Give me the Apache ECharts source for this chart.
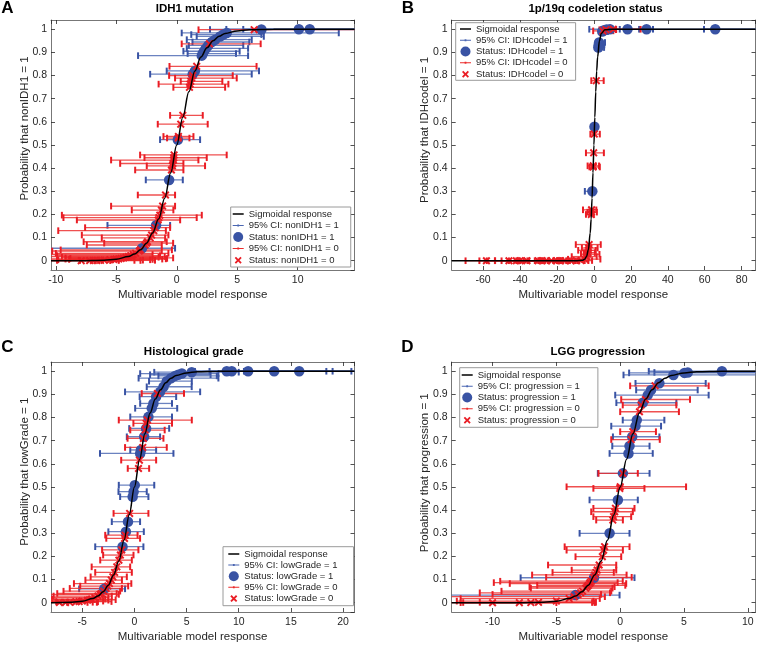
<!DOCTYPE html>
<html><head><meta charset="utf-8">
<script src="https://cdn.jsdelivr.net/npm/echarts@6/dist/echarts.min.js"></script>
<style>html,body{margin:0;padding:0;background:#fff}#c{width:757px;height:645px}</style>
</head><body><div id="c"></div>
<script>
// ---------------- DATA ----------------
// each point: [model response, probability, CI low, CI high]
const idhCurveX = [-10.4,-8,-6,-5,-4,-3.5,-3,-2.5,-2,-1.5,-1,-0.5,0,0.5,1,1.5,2,2.5,3,3.5,4,5,6,8,10,14.7];
const idhCurveY = [0.00003,0.0003,0.0025,0.0067,0.018,0.029,0.047,0.076,0.12,0.18,0.27,0.38,0.5,0.62,0.73,0.82,0.88,0.92,0.95,0.97,0.982,0.993,0.9975,0.9997,1,1];
const idhPos = [
 [11.0,1.0,5.5,22],[10.1,1.0,4.1,20],[7.0,0.999,2.75,18],[4.13,0.984,0.41,13.4],[3.85,0.977,1.2,7.0],[3.58,0.969,1.65,7.2],
 [3.17,0.955,0.83,6.2],[2.9,0.945,1.3,6.0],[2.6,0.93,1.0,5.5],[2.4,0.917,0.83,5.9],[2.26,0.905,0.55,5.2],
 [2.15,0.895,0.9,4.9],[2.07,0.886,-3.2,5.9],[1.5,0.82,-0.83,6.8],[1.32,0.806,-2.2,6.2],[0.09,0.523,-1.38,1.93],
 [-0.63,0.349,-2.56,0.5],[-1.71,0.153,-5.73,-0.55],[-2.87,0.054,-10.8,-0.14]
];
const idhNeg = [
 [6.4,0.998,1.8,17],[2.7,0.937,0.41,6.94],[1.65,0.84,-0.6,6.6],[1.32,0.80,-0.63,4.63],[1.24,0.789,-0.14,4.96],
 [1.16,0.775,0.33,3.77],[1.1,0.763,-1.5,4.27],[1.05,0.749,-0.28,4.0],[0.5,0.628,-0.55,2.15],[0.33,0.59,-1.57,2.56],
 [0.14,0.537,-1.1,1.38],[0.12,0.53,-0.8,1.05],[-0.22,0.457,-3.03,4.13],[-0.25,0.445,-2.67,2.48],[-0.28,0.435,-5.43,1.79],
 [-0.32,0.42,-4.68,0.55],[-0.36,0.41,-2.48,2.34],[-0.44,0.392,-3.44,0.55],[-0.93,0.284,-3.22,-0.14],[-1.17,0.236,-5.43,-0.14],
 [-1.27,0.219,-3.72,-0.28],[-1.4,0.197,-9.5,2.07],[-1.48,0.186,-9.37,1.65],[-1.54,0.176,-8.26,0.28],[-1.79,0.143,-7.58,-0.55],
 [-1.9,0.13,-9.8,-0.9],[-2.08,0.111,-7.85,-0.69],[-2.2,0.099,-6.2,-0.96],[-2.42,0.082,-7.7,-0.83],[-2.5,0.076,-6.0,-0.3],
 [-2.62,0.068,-7.44,-1.24],[-3.0,0.047,-9.6,-0.4],[-3.1,0.042,-10.3,-1.24],[-3.4,0.032,-10.0,-0.69],[-3.6,0.027,-10.8,-2.0],
 [-3.8,0.022,-9.9,-1.38],[-4.0,0.018,-10.8,-1.0],[-4.2,0.015,-9.5,-1.5],[-4.4,0.012,-9.2,-0.3],[-4.6,0.01,-8.8,-0.8],
 [-4.8,0.008,-10.8,-0.9],[-5.0,0.007,-9.2,-1.2],[-5.2,0.0055,-8.9,-2.0],[-5.5,0.004,-9.8,-2.2],[-6.0,0.0025,-10.6,-2.8],
 [-6.3,0.0018,-10.8,-1.8],[-6.6,0.0014,-9.9,-3.5],[-6.9,0.001,-8.0,-3.0],[-7.2,0.0008,-10.6,-4.8],[-7.9,0.0004,-10.8,-5.5]
];

const codelCurveX = [-77,-10,-6,-5,-4,-3,-2,-1.5,-1,-0.5,0,0.5,1,1.5,2,3,4,6,10,87.5];
const codelCurveY = [0,0.00005,0.0025,0.0067,0.018,0.047,0.12,0.18,0.27,0.38,0.5,0.62,0.73,0.82,0.88,0.95,0.982,0.9975,1,1];
const codelPos = [
 [65.7,1.0,59.6,100],[28.5,1.0,24.5,32],[18.2,1.0,-2.5,100],[8.7,1.0,5,14],[6.9,0.999,4.0,12],[5.5,0.996,3.5,9],
 [4.5,0.99,3,7.5],[2.8,0.943,1.2,6.0],[2.6,0.932,1.2,5.6],[2.4,0.921,1.0,5.5],[0.3,0.579,-0.8,1.5],[-0.85,0.3,-4.9,0.5]
];
const codelNeg = [
 [10.5,1.0,5.5,25.3],[6.5,0.998,3,12],[4.9,0.993,-0.4,10.5],[1.3,0.778,-1.4,5.3],[0.2,0.547,-1.9,3.2],
 [-0.13,0.466,-4.3,5.4],[-0.36,0.41,-3.4,2.8],[-0.4,0.405,-2.4,3.2],[-1.27,0.22,-5.9,1.3],[-1.3,0.21,-3.5,1.6],
 [-1.4,0.2,-4.3,-0.2],[-2.6,0.07,-9.8,3.7],[-2.8,0.055,-6.5,2.0],[-3.0,0.045,-8.5,1.0],[-3.2,0.035,-5.5,0.5],
 [-3.5,0.028,-7.0,3.0],[-4.0,0.018,-12,1.5],[-5.0,0.0067,-14,3.5],[-7,0.001,-18,-1],[-9.4,0.0001,-20,-3],
 [-12.5,0,-25,-5],[-15.7,0,-28,-9],[-18,0,-30,-10],[-20.2,0,-32,-13],[-23,0,-36,-15],[-25.6,0,-40,-18],
 [-28,0,-42,-20],[-30.2,0,-46,-22],[-36.3,0,-53.6,-28],[-40,0,-50,-30],[-42,0,-58,-35],[-46,0,-62,-38],[-58.2,0,-69.5,-53.5]
];

const gradeCurveX = [-8,-6,-5,-4,-3.5,-3,-2.5,-2,-1.5,-1,-0.5,0,0.5,1,1.5,2,2.5,3,3.5,4,5,6,8,10,21.1];
const gradeCurveY = [0.0003,0.0025,0.0067,0.018,0.029,0.047,0.076,0.12,0.18,0.27,0.38,0.5,0.62,0.73,0.82,0.88,0.92,0.95,0.97,0.982,0.993,0.9975,0.9997,1,1];
const gradePos = [
 [15.8,1.0,10.5,24],[13.4,1.0,9,22],[10.9,1.0,7.2,20.8],[9.33,1.0,5.8,19.0],[8.85,1.0,5.5,18.4],[5.49,0.996,1.9,10],
 [4.55,0.99,0.55,8.05],[4.2,0.985,1.5,7.3],[3.9,0.98,2.3,7.9],[3.5,0.97,0.4,8.05],[3.1,0.957,1.4,5.5],[2.79,0.933,1.18,5.49],
 [2.46,0.911,-0.9,6.3],[2.08,0.89,0.5,4.0],[1.82,0.861,0.55,3.6],[1.66,0.84,0.07,4.1],[1.34,0.803,-0.4,3.6],[1.12,0.753,-0.5,3.33],
 [0.93,0.717,-0.73,2.46],[0.62,0.66,-0.4,2.08],[0.55,0.645,-3.3,3.74],[0.03,0.508,-1.5,1.9],[-0.08,0.48,-1.53,1.18],
 [-0.17,0.458,-1.37,1.34],[-0.62,0.35,-2.17,0.54],[-0.82,0.307,-2.5,0.9],[-1.14,0.242,-3.76,0.86],[-2.9,0.06,-5.3,-0.9]
];
const gradeNeg = [
 [2.2,0.904,0.7,4.75],[1.25,0.789,-1.5,5.5],[1.12,0.775,-0.1,3.6],[1.02,0.746,-0.4,2.9],[0.86,0.71,-0.66,2.78],
 [0.8,0.671,-0.9,3.1],[0.48,0.616,-1.27,2.08],[0.39,0.58,-0.64,1.41],[-0.46,0.386,-2.0,1.34],[-0.89,0.292,-2.8,0.3],
 [-0.95,0.278,-2.7,0.54],[-1.22,0.228,-3.1,0.38],[-1.35,0.206,-3.0,-0.09],[-1.49,0.184,-3.28,-0.25],[-1.69,0.155,-4.1,-0.41],
 [-1.9,0.131,-3.76,-0.25],[-2.07,0.112,-4.2,-0.73],[-2.22,0.098,-4.7,-1.2],[-2.4,0.083,-5.8,-0.3],[-2.55,0.072,-5.2,-0.6],
 [-2.72,0.062,-6.2,-1.2],[-2.94,0.05,-6.8,-1.37],[-3.18,0.04,-7.4,-1.7],[-3.3,0.036,-8.1,-1.5],[-3.5,0.029,-7.75,-2.17],
 [-3.8,0.022,-8.5,-2.5],[-4.1,0.016,-7.9,-2.8],[-4.3,0.013,-8.2,-1.8],[-4.5,0.011,-8.5,-2.5],[-5.0,0.007,-9,-3],
 [-5.3,0.005,-7.5,-2.2],[-5.6,0.004,-8.8,-3.5],[-6.2,0.002,-9.5,-4],[-6.6,0.0014,-8.1,-3.6],[-7.2,0.001,-9.2,-4.5]
];

const progCurveX = [-13.2,-10,-8,-6,-5,-4,-3.5,-3,-2.5,-2,-1.5,-1,-0.5,0,0.5,1,1.5,2,2.5,3,3.5,4,5,6,8,10.6];
const progCurveY = [0.000002,0.00005,0.0003,0.0025,0.0067,0.018,0.029,0.047,0.076,0.12,0.18,0.27,0.38,0.5,0.62,0.73,0.82,0.88,0.92,0.95,0.97,0.982,0.993,0.9975,0.9997,1];
const progPos = [
 [7.97,1.0,2.24,14],[5.29,0.995,2.68,12],[5.03,0.993,0.7,11],[4.17,0.984,0.26,12],[3.07,0.948,1.2,6.7],
 [2.42,0.919,1.25,6.07],[2.16,0.897,-0.39,6.93],[1.77,0.864,-0.3,4.4],[1.3,0.789,0.2,3.46],[1.2,0.763,-0.7,3.2],
 [0.94,0.717,-0.57,3.07],[0.73,0.677,-0.62,2.3],[0.65,0.645,-0.83,2.55],[0.21,0.559,-1.75,2.3],[-0.18,0.444,-2.4,1.38],
 [-0.83,0.3,-3.18,0.73],[-2.05,0.108,-7.8,1.12],[-3.5,0.033,-13.5,-0.05]
];
const progNeg = [
 [2.73,0.937,0.78,6.93],[1.98,0.878,0.08,5.47],[1.64,0.854,0.2,4.4],[1.51,0.825,0.0,4.6],[0.99,0.739,0.0,2.8],
 [0.86,0.705,-0.7,3.1],[0.21,0.559,-1.7,1.38],[0.0,0.501,-4.2,5.16],[-0.03,0.494,-2.1,1.9],[-0.37,0.408,-2.1,1.12],
 [-0.43,0.393,-2.27,0.99],[-0.52,0.372,-2.1,0.86],[-0.58,0.357,-1.88,0.21],[-1.22,0.242,-4.35,0.73],[-1.3,0.227,-4.2,0.21],
 [-1.4,0.199,-3.5,0.08],[-1.65,0.163,-5.65,-0.31],[-1.8,0.141,-3.8,-0.31],[-1.9,0.131,-5.3,-0.5],[-2.0,0.12,-6.9,0.5],
 [-2.1,0.11,-5.8,0.9],[-2.26,0.093,-9.4,0.2],[-2.35,0.087,-9.9,-0.2],[-2.4,0.083,-8.65,0.47],[-2.5,0.075,-6.5,0.4],
 [-2.6,0.069,-7.1,-0.44],[-2.7,0.063,-7.0,-0.6],[-2.95,0.05,-9.3,-0.7],[-3.1,0.043,-11.0,-0.8],[-3.3,0.036,-10,-1.5],
 [-3.6,0.026,-13.5,-1.2],[-4.0,0.018,-12.5,-1.6],[-5.0,0.007,-12.8,-2.1],[-6.4,0.0017,-11.0,-1.9],[-7.0,0.0009,-12.3,-2.2],
 [-7.9,0.0004,-13.5,-2.0],[-10.0,0.00005,-12.5,-5.0]
];

const yTicks = [0,0.1,0.2,0.3,0.4,0.5,0.6,0.7,0.8,0.9,1];

// ---------------- LAYOUT / STYLE ----------------
const FONT = '"Liberation Sans", Arial, Helvetica, sans-serif';
const INK = '#262626', BOXC = '#777777';
const BLUE = '#3953a4', BLUE_CI = '#4a66b2', RED = '#ea1d25', RED_CI = '#ec2a2a';
const X_PATH = 'path://M0,1.4L1.4,0L4,2.6L6.6,0L8,1.4L5.4,4L8,6.6L6.6,8L4,5.4L1.4,8L0,6.6L2.6,4Z';
const CORNERS = 'M0,0h0.01v0.01h-0.01zM10.99,9.99h0.01v0.01h-0.01z';
const ICON_LINE = 'path://' + CORNERS + 'M0,4.3h11v1.4h-11z';
const ICON_CI = 'path://' + CORNERS + 'M0,4.5h11v1h-11zM4.6,4h1.8v2h-1.8z';
const ICON_X = 'path://' + CORNERS + 'M2,3L3.3,1.7L5.5,3.9L7.7,1.7L9,3L6.8,5.2L9,7.4L7.7,8.7L5.5,6.5L3.3,8.7L2,7.4L4.2,5.2Z';

const panels = [
 {key:'nonIDH1', title:'IDH1 mutation', letter:'A', grid:{left:51, top:20, width:303.5, height:250},
  xMin:-10.4, xMax:14.7, xStep:5, cx:idhCurveX, cy:idhCurveY, pos:idhPos, neg:idhNeg,
  titleAt:[194.7,9], letterAt:[7.5,8.5], xNameAt:[192.7,294.7], yNameAt:[25,128.5],
  legend:{left:230.7, top:207, padding:[2,12,2,2], itemGap:1.5}},
 {key:'IDHcodel', title:'1p/19q codeletion status', letter:'B', grid:{left:451.7, top:20, width:303.8, height:250},
  xMin:-77, xMax:87.5, xStep:20, cx:codelCurveX, cy:codelCurveY, pos:codelPos, neg:codelNeg,
  titleAt:[595.5,9], letterAt:[408,8.5], xNameAt:[593.3,295], yNameAt:[424.7,130],
  legend:{left:455.7, top:22.7, padding:[1.3,8,1.3,4.3], itemGap:1.25}},
 {key:'lowGrade', title:'Histological grade', letter:'C', grid:{left:51, top:362, width:303.5, height:250},
  xMin:-8, xMax:21.1, xStep:5, cx:gradeCurveX, cy:gradeCurveY, pos:gradePos, neg:gradeNeg,
  titleAt:[193.7,352.3], letterAt:[7.5,347.5], xNameAt:[192.5,636.7], yNameAt:[25,471.7],
  legend:{left:223, top:546.7, padding:[2.3,16,2.3,5.3], itemGap:1.1}},
 {key:'progression', title:'LGG progression', letter:'D', grid:{left:451.7, top:362, width:303.8, height:250},
  xMin:-13.2, xMax:10.6, xStep:5, cx:progCurveX, cy:progCurveY, pos:progPos, neg:progNeg,
  titleAt:[597.7,352.3], letterAt:[407.5,347.5], xNameAt:[593.3,636.7], yNameAt:[424.7,472.7],
  legend:{left:459.7, top:367.7, padding:[2.3,18,2.3,2], itemGap:1.25}}
];

function ciRender(lineColor, capColor) {
  return function (params, api) {
    const y = api.value(1), lo = api.value(2), hi = api.value(3);
    const a = api.coord([lo, y]), b = api.coord([hi, y]);
    const cs = params.coordSys;
    const x0 = cs.x, x1 = cs.x + cs.width;
    const L = Math.max(a[0], x0), R = Math.min(b[0], x1), yy = a[1];
    const ch = [{type:'line', shape:{x1:L, y1:yy, x2:R, y2:yy}, style:{stroke:lineColor, lineWidth:1.3, opacity:0.82}}];
    if (a[0] >= x0) ch.push({type:'line', shape:{x1:a[0], y1:yy-3.3, x2:a[0], y2:yy+3.3}, style:{stroke:capColor, lineWidth:2}});
    if (b[0] <= x1) ch.push({type:'line', shape:{x1:b[0], y1:yy-3.3, x2:b[0], y2:yy+3.3}, style:{stroke:capColor, lineWidth:2}});
    return {type:'group', children:ch};
  };
}

const option = {animation:false, grid:[], xAxis:[], yAxis:[], series:[], legend:[], graphic:{elements:[]}};
const tickStyle = {show:true, inside:true, length:4, lineStyle:{color:INK, width:0.8}};
const lineStyleBox = {show:true, onZero:false, lineStyle:{color:BOXC, width:1}};

panels.forEach((p, i) => {
  option.grid.push(Object.assign({containLabel:false}, p.grid));
  const xfmt = v => { const r = v / p.xStep; return Math.abs(r - Math.round(r)) < 1e-6 ? String(Math.round(v)) : ''; };
  const yfmt = v => { const t = yTicks.find(q => Math.abs(q - v) < 1e-6); return t === undefined ? '' : String(t); };
  option.xAxis.push({type:'value', gridIndex:i, position:'bottom', min:p.xMin, max:p.xMax, minInterval:p.xStep, maxInterval:p.xStep,
    axisLine:lineStyleBox, axisTick:tickStyle, splitLine:{show:false},
    axisLabel:{show:true, margin:5, fontSize:10.5, color:INK, fontFamily:FONT, formatter:xfmt, showMinLabel:false, showMaxLabel:false}});
  option.xAxis.push({type:'value', gridIndex:i, position:'top', min:p.xMin, max:p.xMax, minInterval:p.xStep, maxInterval:p.xStep,
    axisLine:lineStyleBox, axisTick:tickStyle, splitLine:{show:false}, axisLabel:{show:false}});
  option.yAxis.push({type:'value', gridIndex:i, position:'left', min:-0.04, max:1.04, minInterval:0.1, maxInterval:0.1,
    axisLine:lineStyleBox, axisTick:tickStyle, splitLine:{show:false},
    axisLabel:{show:true, margin:4, fontSize:10.5, color:INK, fontFamily:FONT, formatter:yfmt, showMinLabel:false, showMaxLabel:false}});
  option.yAxis.push({type:'value', gridIndex:i, position:'right', min:-0.04, max:1.04, minInterval:0.1, maxInterval:0.1,
    axisLine:lineStyleBox, axisTick:tickStyle, splitLine:{show:false}, axisLabel:{show:false}});
  const xi = 2*i, yi = 2*i;
  const n = {ci1:'95% CI: ' + p.key + ' = 1', st1:'Status: ' + p.key + ' = 1', ci0:'95% CI: ' + p.key + ' = 0', st0:'Status: ' + p.key + ' = 0'};
  option.series.push({type:'line', name:'Sigmoidal response', xAxisIndex:xi, yAxisIndex:yi,
    data:p.cx.map((x, k) => [x, p.cy[k]]), symbol:'none', showSymbol:false, smooth:0.35, smoothMonotone:'x',
    lineStyle:{color:'#000', width:1.5}, itemStyle:{color:'#000'}});
  option.series.push({type:'custom', name:n.ci1, xAxisIndex:xi, yAxisIndex:yi, data:p.pos, encode:{x:0, y:1},
    renderItem:ciRender(BLUE_CI, BLUE), itemStyle:{color:BLUE_CI}});
  option.series.push({type:'scatter', name:n.st1, xAxisIndex:xi, yAxisIndex:yi, data:p.pos.map(d => [d[0], d[1]]),
    symbol:'circle', symbolSize:10.5, itemStyle:{color:BLUE, opacity:1}});
  option.series.push({type:'custom', name:n.ci0, xAxisIndex:xi, yAxisIndex:yi, data:p.neg, encode:{x:0, y:1},
    renderItem:ciRender(RED_CI, RED), itemStyle:{color:RED_CI}});
  option.series.push({type:'scatter', name:n.st0, xAxisIndex:xi, yAxisIndex:yi, data:p.neg.map(d => [d[0], d[1]]),
    symbol:X_PATH, symbolSize:8, itemStyle:{color:RED, opacity:1}});
  option.legend.push({orient:'vertical', left:p.legend.left, top:p.legend.top, padding:p.legend.padding, itemGap:p.legend.itemGap,
    itemWidth:11, itemHeight:10, backgroundColor:'#fff', borderColor:'#9a9a9a', borderWidth:1, borderRadius:0,
    selectedMode:false, textStyle:{fontSize:9.5, color:INK, fontFamily:FONT},
    data:[{name:'Sigmoidal response', icon:ICON_LINE}, {name:n.ci1, icon:ICON_CI}, {name:n.st1, icon:'circle'},
          {name:n.ci0, icon:ICON_CI}, {name:n.st0, icon:ICON_X}]});
  const g = option.graphic.elements;
  g.push({type:'text', x:p.titleAt[0], y:p.titleAt[1], style:{text:p.title, font:'bold 11.5px ' + FONT, fill:'#000', align:'center', verticalAlign:'middle', textAlign:'center', textVerticalAlign:'middle'}});
  g.push({type:'text', x:p.letterAt[0], y:p.letterAt[1], style:{text:p.letter, font:'bold 17px ' + FONT, fill:'#000', align:'center', verticalAlign:'middle', textAlign:'center', textVerticalAlign:'middle'}});
  g.push({type:'text', x:p.xNameAt[0], y:p.xNameAt[1], style:{text:'Multivariable model response', font:'11.5px ' + FONT, fill:INK, align:'center', verticalAlign:'middle', textAlign:'center', textVerticalAlign:'middle'}});
  g.push({type:'text', x:p.yNameAt[0], y:p.yNameAt[1], rotation:Math.PI/2, style:{text:'Probability that ' + p.key + ' = 1', font:'11.5px ' + FONT, fill:INK, align:'center', verticalAlign:'middle', textAlign:'center', textVerticalAlign:'middle'}});
});

const chart = echarts.init(document.getElementById('c'), null, {renderer:'canvas'});
chart.setOption(option);
</script>
</body></html>
